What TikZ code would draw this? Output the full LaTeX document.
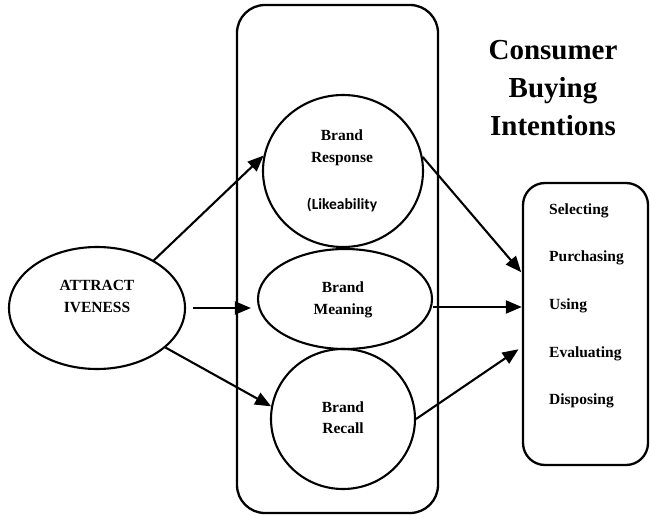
\documentclass[tikz,border=0pt]{standalone}
\usepackage{fontspec}
\setmainfont{Liberation Serif}
\newfontfamily\carlitofont{Carlito}
\usetikzlibrary{arrows.meta,shapes.geometric,calc}
\begin{document}
\begin{tikzpicture}[x=1pt,y=-1pt,
  oval/.style={draw,ellipse,line width=2.1pt,inner sep=0pt},
  frame/.style={draw,rectangle,rounded corners=#1,line width=2.3pt,inner sep=0pt},
  lbl/.style={font=\fontsize{15.5}{22}\selectfont\bfseries,align=center,inner sep=0pt},
  item/.style={font=\fontsize{15.5}{19}\selectfont\bfseries,anchor=west,inner sep=0pt},
  arr/.style={line width=2.1pt,-{Triangle[length=16pt,width=13pt]}}]
\useasboundingbox (0,0) rectangle (650,516);

% containers
\node[frame=28pt,minimum width=201pt,minimum height=508pt] (mid) at (337.5,259) {};
\node[frame=22pt,minimum width=125pt,minimum height=282pt] (box) at (585.5,324) {};

% ovals
\node[oval,minimum width=176pt,minimum height=122pt] (att) at (97,308) {};
\node[oval,minimum width=160pt,minimum height=152pt] (resp) at (343,171) {};
\node[oval,minimum width=174pt,minimum height=100pt] (mean) at (345,299) {};
\node[oval,minimum width=144pt,minimum height=140pt] (rec) at (343,419) {};

% labels
\node[lbl] (t-att) at (97,296) {ATTRACT\\IVENESS};
\node[lbl] (t-resp) at (342,147.5) {Brand\\Response};
\node[font=\carlitofont\fontsize{15.5}{19}\selectfont\bfseries,inner sep=0pt] (t-like) at (342,205) {(Likeability};
\node[lbl] (t-mean) at (343,299.5) {Brand\\Meaning};
\node[lbl,font=\fontsize{15.5}{21}\selectfont\bfseries] (t-rec) at (343,418) {Brand\\Recall};
\node[font=\fontsize{29}{38}\selectfont\bfseries,align=center,inner sep=0pt] (title) at (553,88.5) {Consumer\\Buying\\Intentions};

% stages of buying
\node[item] (s1) at (549,211) {Selecting};
\node[item] (s2) at (549,258) {Purchasing};
\node[item] (s3) at (549,306) {Using};
\node[item] (s4) at (549,354) {Evaluating};
\node[item] (s5) at (549,401) {Disposing};

% connectors
\draw[arr] (att.40) -- (resp.169);
\draw[arr,shorten <=7pt,shorten >=6pt] (att.east) -- (att.east -| mean.west);
\draw[arr] (att.-30) -- (rec.170);
\draw[arr,shorten >=1pt] (resp.10) -- ([yshift=51pt]box.west);
\draw[arr] ($(mean.east)+(0,8)$) -- ($(mean.east -| box.west)+(0,8)$);
\draw[arr,shorten >=4pt] (rec.east) -- ([yshift=-23pt]box.west);
\end{tikzpicture}
\end{document}
